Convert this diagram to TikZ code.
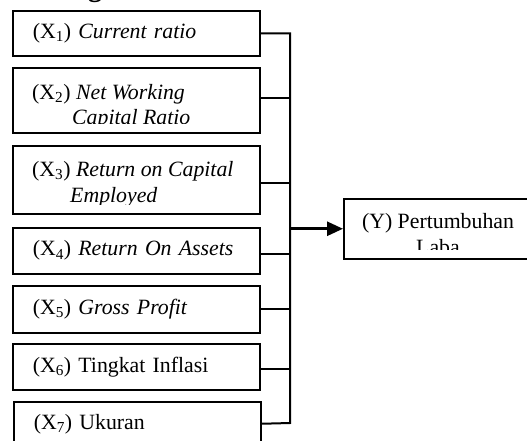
\documentclass[tikz,border=0pt]{standalone}
\usepackage{fontspec}
\setmainfont{Liberation Serif}
\usetikzlibrary{arrows.meta}

\begin{document}
\begin{tikzpicture}[
    x=1pt, y=1pt,
    font=\fontsize{21.8}{25.5}\selectfont,
    varbox/.style={draw,line width=1.5pt,rectangle,anchor=north west,
      minimum width=247,inner xsep=20,inner ysep=0,text width=207,align=left},
    cuttext/.style={anchor=north west,inner sep=0pt,align=left},
    link/.style={line width=2pt}
  ]
  \useasboundingbox (0,0) rectangle (527,-440);
  \node (head) [font=\bfseries\fontsize{28}{30}\selectfont,anchor=base] at (95,4) {g};
  \node (x1) [varbox,minimum height=45] at (12,-10) {(X\textsubscript{1}) \textit{Current ratio}};
  \node (x2) [varbox,minimum height=65] at (12,-67) {};
  \node (x3) [varbox,minimum height=68] at (12,-145) {};
  \node (x4) [varbox,minimum height=46] at (12,-227) {(X\textsubscript{4}) \textit{Return On Assets}};
  \node (x5) [varbox,minimum height=47] at (12,-285) {(X\textsubscript{5}) \textit{Gross Profit}};
  \node (x6) [varbox,minimum height=46] at (12,-343) {(X\textsubscript{6}) Tingkat Inflasi};
  \node (x7) [varbox,minimum height=44] at (13,-401) {(X\textsubscript{7}) Ukuran};
  \node (y) [varbox,minimum width=190,text width=150,minimum height=60] at (343,-198) {};
  \begin{scope}
    \clip ([yshift=10pt]x2.south west) rectangle (x2.north east);
    \node (x2txt) [cuttext] at ([shift={(20,-17)}]x2.north west) {(X\textsubscript{2}) \textit{Net Working}\\\hspace*{40pt}\textit{Capital Ratio}};
  \end{scope}
  \begin{scope}
    \clip ([yshift=10pt]x3.south west) rectangle (x3.north east);
    \node (x3txt) [cuttext] at ([shift={(20,-16.5)}]x3.north west) {(X\textsubscript{3}) \textit{Return on Capital}\\\hspace*{38pt}\textit{Employed}};
  \end{scope}
  \begin{scope}
    \clip ([yshift=10pt]y.south west) rectangle (y.north east);
    \node (ytxt) [cuttext,anchor=north,align=center] at ([shift={(95,-15.5)}]y.north west) {(Y) Pertumbuhan\\Laba};
  \end{scope}
  \coordinate (busbot) at (290,-423);
  \draw[link] (x1.east) -| (busbot) -- (x7.east);
  \draw[link] ([yshift=2.5pt]x2.east) -- ([yshift=2.5pt]x2.east -| busbot);
  \draw[link] ([yshift=-3pt]x3.east) -- ([yshift=-3pt]x3.east -| busbot);
  \draw[link] ([yshift=-3pt]x4.east) -- ([yshift=-3pt]x4.east -| busbot);
  \draw[link] (x5.east) -- (x5.east -| busbot);
  \draw[link] ([yshift=-2pt]x6.east) -- ([yshift=-2pt]x6.east -| busbot);
  \draw[link,line width=2.8pt,-{Triangle[length=16pt,width=14pt]}] (y.west -| busbot) -- (y.west);
\end{tikzpicture}
\end{document}
